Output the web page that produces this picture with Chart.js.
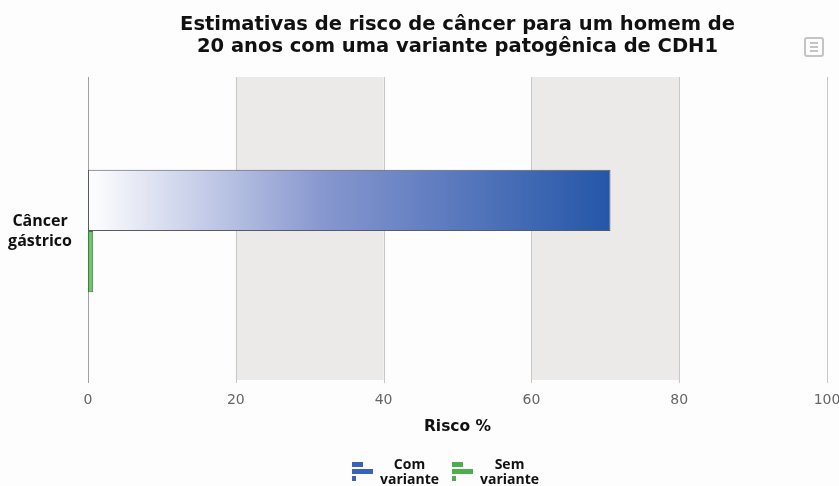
<!DOCTYPE html>
<html>
<head>
<meta charset="utf-8">
<script src="https://cdn.jsdelivr.net/npm/chart.js@4"></script>
<style>
  html, body { margin: 0; padding: 0; background: #fdfdfd; }
  #wrap { position: relative; width: 839px; height: 486px; font-family: "DejaVu Sans", sans-serif; }
  #chart { position: absolute; left: 0; top: 0; }
  #title { position: absolute; left: 88px; width: 739px; top: 13px; text-align: center;
    font-weight: bold; font-size: 19.5px; line-height: 22px; color: #111; }
  #menu { position: absolute; left: 804px; top: 37px; width: 16px; height: 16px;
    border: 2px solid #c4c4c4; border-radius: 3px; }
  #menu span { position: absolute; left: 4px; width: 8px; height: 2px; background: #c4c4c4; }
  .leg { position: absolute; top: 456px; display: flex; align-items: center; }
  .icon { position: relative; width: 21px; height: 19px; margin-right: 7px; }
  .icon i { position: absolute; left: 0; height: 5px; }
  .leg .txt { font-family: "Open Sans", sans-serif; font-weight: bold; font-size: 14px; line-height: 15px; text-align: center; color: #111; }
</style>
</head>
<body>
<div id="wrap">
  <canvas id="chart" width="839" height="486"></canvas>
  <div id="title">Estimativas de risco de câncer para um homem de<br>20 anos com uma variante patogênica de CDH1</div>
  <div id="menu"><span style="top:3px"></span><span style="top:7px"></span><span style="top:11px"></span></div>
  <div class="leg" style="left:352px">
    <div class="icon">
      <i style="top:0;width:11px;background:#3a63b8"></i>
      <i style="top:7px;width:21px;background:#3a63b8"></i>
      <i style="top:14px;width:4px;background:#3a63b8"></i>
    </div>
    <div class="txt">Com<br>variante</div>
  </div>
  <div class="leg" style="left:452px">
    <div class="icon">
      <i style="top:0;width:11px;background:#4cae4c"></i>
      <i style="top:7px;width:21px;background:#4cae4c"></i>
      <i style="top:14px;width:4px;background:#4cae4c"></i>
    </div>
    <div class="txt">Sem<br>variante</div>
  </div>
</div>
<script>
  // data
  const categories = [['Câncer', 'gástrico']];
  const comVariante = [70.7];
  const semVariante = [0.7];
  const xTicks = [0, 20, 40, 60, 80, 100];

  // shaded bands behind the plot (20-40 and 60-80)
  const bandsPlugin = {
    id: 'bands',
    beforeDatasetsDraw(chart) {
      const x = chart.scales.x, a = chart.chartArea, c = chart.ctx;
      const top = 77;
      c.save();
      c.fillStyle = '#ebeae8';
      [[20, 40], [60, 80]].forEach(function(b) {
        const x0 = x.getPixelForValue(b[0]), x1 = x.getPixelForValue(b[1]);
        c.fillRect(x0, top, x1 - x0, a.bottom - 2 - top);
      });
      // grid lines on top of the bands
      c.strokeStyle = '#c8c8c8';
      c.lineWidth = 1;
      xTicks.slice(1).forEach(function(v) {
        const px = Math.round(x.getPixelForValue(v)) + 0.5;
        c.beginPath(); c.moveTo(px, top); c.lineTo(px, a.bottom + 1); c.stroke();
      });
      c.strokeStyle = '#a0a0a0';
      const p0 = Math.round(x.getPixelForValue(0)) + 0.5;
      c.beginPath(); c.moveTo(p0, top); c.lineTo(p0, a.bottom + 1); c.stroke();
      c.restore();
    }
  };

  function blueGradient(ctx) {
    const chart = ctx.chart;
    if (!chart.chartArea) return '#2456a8';
    const x0 = chart.scales.x.getPixelForValue(0);
    const x1 = chart.scales.x.getPixelForValue(ctx.raw);
    const g = chart.ctx.createLinearGradient(x0, 0, x1, 0);
    g.addColorStop(0, '#ffffff');
    g.addColorStop(0.45, '#8797cf');
    g.addColorStop(1, '#2456a8');
    return g;
  }

  new Chart(document.getElementById('chart').getContext('2d'), {
    type: 'bar',
    data: {
      labels: categories,
      datasets: [{
        label: 'Com variante',
        data: comVariante,
        backgroundColor: blueGradient,
        borderColor: '#555a66',
        borderWidth: 1,
        borderSkipped: false
      }, {
        label: 'Sem variante',
        data: semVariante,
        backgroundColor: '#74c174',
        borderColor: '#3c7f3c',
        borderWidth: 1,
        borderSkipped: false
      }]
    },
    options: {
      indexAxis: 'y',
      responsive: false,
      animation: false,
      layout: { padding: { top: 80, right: 12, bottom: 46, left: 0 } },
      datasets: { bar: { categoryPercentage: 0.405, barPercentage: 1 } },
      scales: {
        x: {
          min: 0, max: 100,
          afterFit: function(s) { s.height = 58; s.paddingRight = 0; s.paddingLeft = 0; },
          afterBuildTicks: function(s) { s.ticks = xTicks.map(function(v) { return { value: v }; }); },
          grid: { display: false },
          border: { display: false },
          ticks: { color: '#666', font: { family: 'DejaVu Sans', size: 14 }, padding: 2 },
          title: { display: true, text: 'Risco %', color: '#111', font: { family: 'DejaVu Sans', size: 15.5, weight: 'bold' }, padding: { top: 6 } }
        },
        y: {
          afterFit: function(s) { s.width = 88; },
          grid: { display: false },
          border: { display: false },
          ticks: { color: '#111', crossAlign: 'center', font: { family: 'Open Sans', size: 16, weight: 'bold', lineHeight: 1.25 }, padding: 8 }
        }
      },
      plugins: {
        legend: { display: false },
        title: { display: false },
        tooltip: { enabled: false }
      }
    },
    plugins: [bandsPlugin]
  });
</script>
</body>
</html>
